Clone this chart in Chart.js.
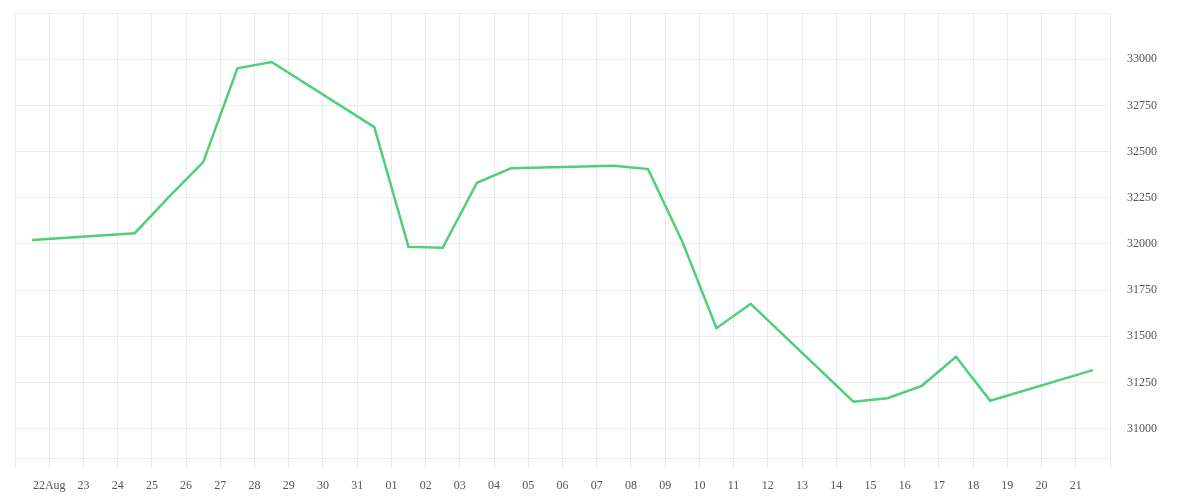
<!DOCTYPE html>
<html>
<head>
  <meta charset="utf-8" />
  <title>Price</title>
  <style>
    html, body { margin: 0; padding: 0; background: #fff; }
  </style>
</head>
<body>
  <canvas id="stage" width="1200" height="500"></canvas>

  <script src="https://cdn.jsdelivr.net/npm/chart.js@4.4.1/dist/chart.umd.min.js"></script>
  <script>
    // daily closes (weekdays only), stamped at noon
    const dates = [
      '2020-08-21', '2020-08-24', '2020-08-25', '2020-08-26', '2020-08-27', '2020-08-28',
      '2020-08-31', '2020-09-01', '2020-09-02', '2020-09-03', '2020-09-04',
      '2020-09-07', '2020-09-08', '2020-09-09', '2020-09-10', '2020-09-11',
      '2020-09-14', '2020-09-15', '2020-09-16', '2020-09-17', '2020-09-18',
      '2020-09-21'
    ];
    const values = [
      32021, 32058, 32255, 32443, 32951, 32985,
      32632, 31984, 31979, 32331, 32410,
      32423, 32405, 32013, 31544, 31676,
      31146, 31165, 31232, 31389, 31151,
      31317
    ];
    // one label per day, starting at Aug 22
    const tickLabels = [
      '22Aug', '23', '24', '25', '26', '27', '28', '29', '30', '31',
      '01', '02', '03', '04', '05', '06', '07', '08', '09', '10',
      '11', '12', '13', '14', '15', '16', '17', '18', '19', '20', '21'
    ];

    const DAY = 86400000;
    const origin = Date.UTC(2020, 7, 22);
    function dayOf(s) {
      const [y, m, d] = s.split('-').map(Number);
      return (Date.UTC(y, m - 1, d) - origin) / DAY;
    }
    // noon of each trading day, in days from Aug 22
    const points = dates.map((s, i) => ({ x: dayOf(s) + 0.5, y: values[i] }));

    const gridColor = '#ececec';
    const textColor = '#555';

    new Chart(document.getElementById('stage'), {
      type: 'line',
      data: {
        datasets: [{
          data: points,
          borderColor: 'rgb(78, 208, 122)',
          borderWidth: 2.5,
          pointRadius: 0,
          tension: 0,
          fill: false
        }]
      },
      options: {
        responsive: false,
        animation: false,
        devicePixelRatio: 1,
        layout: { padding: { top: 13, left: 15, right: 40, bottom: -4 } },
        plugins: { legend: { display: false }, tooltip: { enabled: false } },
        scales: {
          x: {
            type: 'linear',
            min: -1,
            max: tickLabels.length,
            grid: { color: gridColor, tickColor: gridColor, tickLength: 9 },
            border: { color: gridColor },
            ticks: {
              stepSize: 1,
              autoSkip: false,
              maxRotation: 0,
              color: textColor,
              font: { family: 'Liberation Serif', size: 12 },
              padding: 11,
              callback: v => tickLabels[v] ?? ''
            }
          },
          y: {
            position: 'right',
            min: 30838,
            max: 33250,
            grid: { color: gridColor, tickColor: 'rgba(0,0,0,0)', tickLength: 14 },
            border: { color: gridColor },
            ticks: {
              stepSize: 250,
              includeBounds: false,
              color: textColor,
              font: { family: 'Liberation Serif', size: 12 },
              padding: 3,
              callback: v => (v < 33250 ? v : '')
            }
          }
        }
      }
    });
  </script>
</body>
</html>
